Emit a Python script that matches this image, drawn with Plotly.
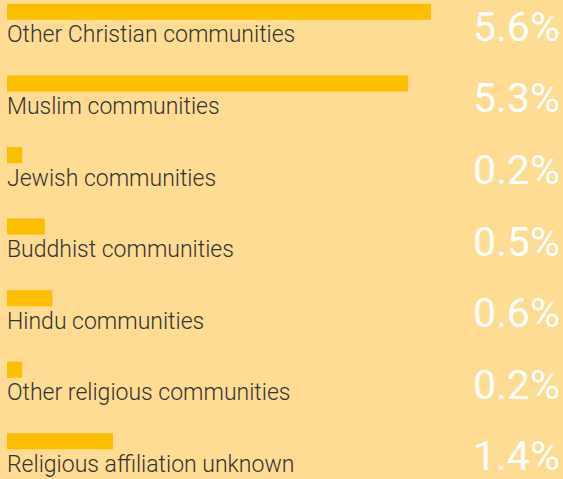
import plotly.graph_objects as go

categories = [
    "Other Christian communities",
    "Muslim communities",
    "Jewish communities",
    "Buddhist communities",
    "Hindu communities",
    "Other religious communities",
    "Religious affiliation unknown",
]
values = [5.6, 5.3, 0.2, 0.5, 0.6, 0.2, 1.4]
value_labels = ["5.6%", "5.3%", "0.2%", "0.5%", "0.6%", "0.2%", "1.4%"]

BG = "#FEDC94"
BAR = "#FCBE00"
FONT = "Roboto"

ROW = 71.57      # pixels per row
TOP = 11.86      # pixel centre of first bar
H = 479

idx = list(range(len(categories)))

fig = go.Figure(
    go.Bar(
        x=values,
        y=idx,
        orientation="h",
        width=16 / ROW,
        marker=dict(color=BAR, line=dict(width=0)),
        hoverinfo="skip",
    )
)

annotations = []
for i, (c, v) in enumerate(zip(categories, value_labels)):
    annotations.append(dict(
        x=0, xref="paper", y=i + 23 / ROW, yref="y",
        text=c, showarrow=False, xanchor="left", yanchor="middle",
        font=dict(family=FONT, size=23, color="#333333", weight=300),
        xshift=-2,
    ))
    annotations.append(dict(
        x=1, xref="paper", y=i + 15 / ROW, yref="y",
        text=v, showarrow=False, xanchor="right", yanchor="middle",
        font=dict(family=FONT, size=41, color="#FFFFFF", weight=400),
        xshift=3,
    ))

fig.update_layout(
    width=563, height=H,
    margin=dict(l=7, r=4, t=0, b=0),
    paper_bgcolor=BG, plot_bgcolor=BG,
    showlegend=False,
    xaxis=dict(range=[0, 552 / 75.7], visible=False, fixedrange=True),
    yaxis=dict(range=[(H - TOP) / ROW, -TOP / ROW], visible=False, fixedrange=True),
    annotations=annotations,
)

fig.write_html(
    "out.html",
    config={"displayModeBar": False},
    post_script="document.body.style.margin='0';document.body.style.overflow='hidden';",
)
